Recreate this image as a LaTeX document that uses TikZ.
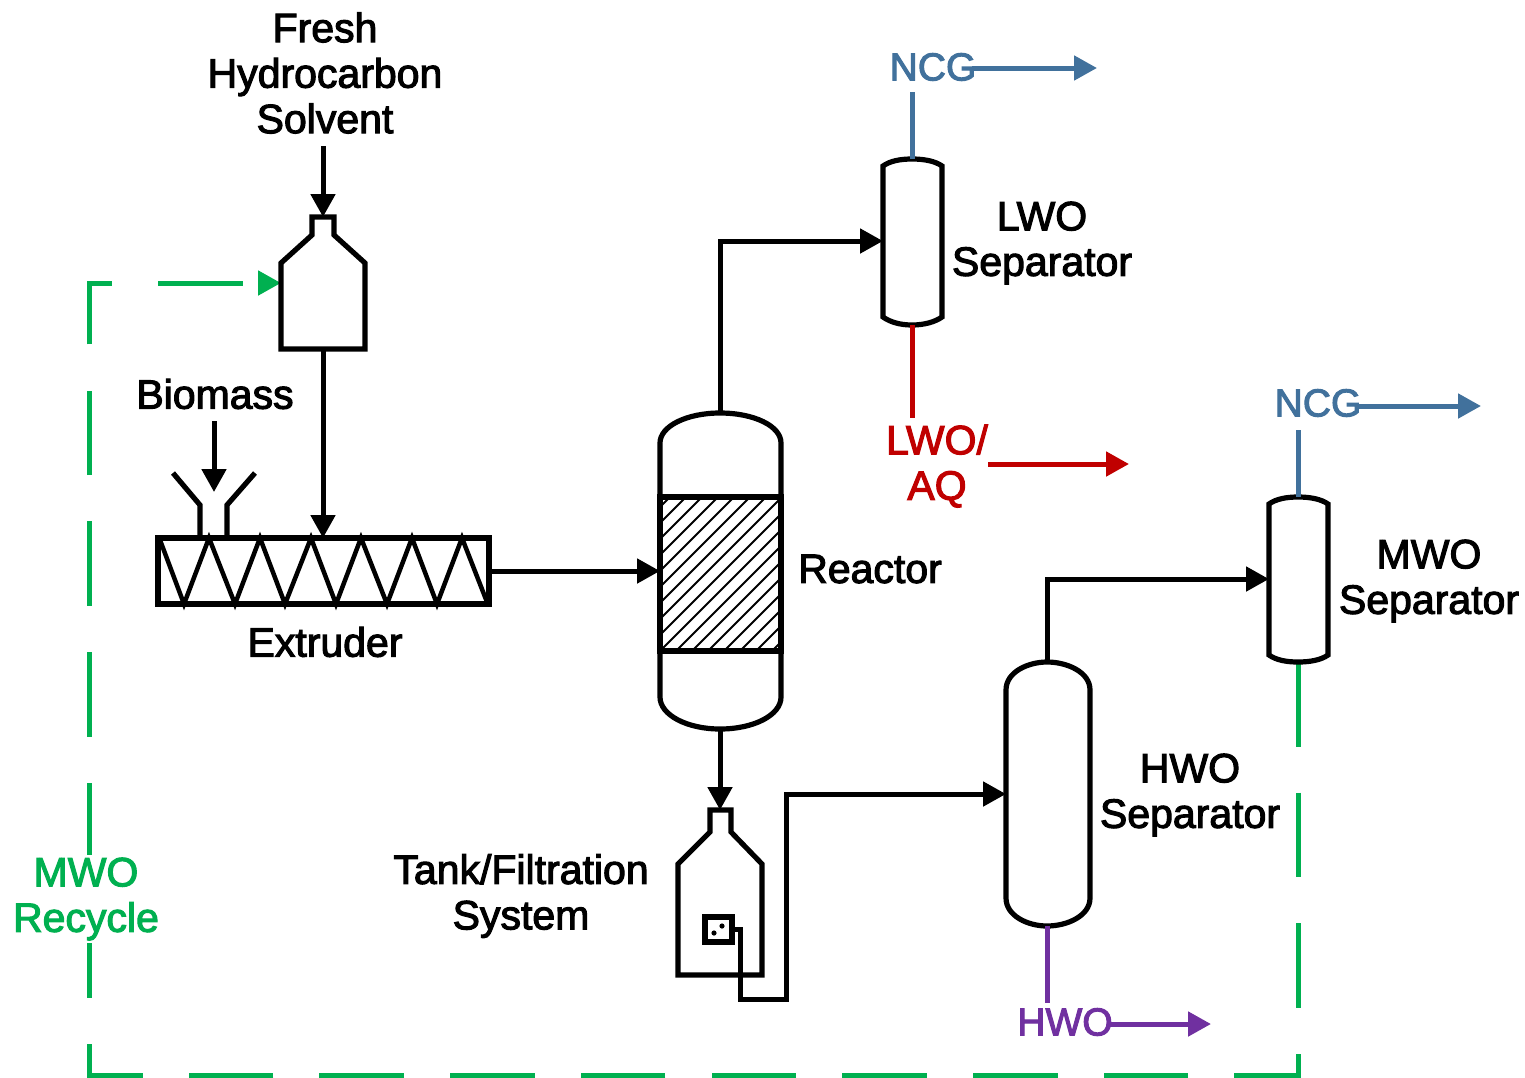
\documentclass[tikz,border=0pt]{standalone}
\usepackage{fontspec}
\setmainfont{Liberation Sans}
\newfontfamily\labfont[FakeBold=2.6]{Liberation Sans}
\usetikzlibrary{arrows.meta}
\definecolor{ncgblue}{HTML}{41719C}
\definecolor{lwored}{HTML}{C00000}
\definecolor{hwopurple}{HTML}{7030A0}
\definecolor{mwogreen}{HTML}{00B050}
\tikzset{
  unitline/.style={draw=black,line width=5.2pt,line join=miter},
  flow/.style={line width=5pt,-{Triangle[length=23pt,width=24pt]}},
  plainflow/.style={line width=5pt},
  lab/.style={font=\labfont\fontsize{41}{45.5}\selectfont,align=center,inner sep=0pt,text=black},
  smalllab/.style={lab,font=\labfont\fontsize{39}{45}\selectfont},
  hatchline/.style={line width=2pt,black},
  recycle/.style={line width=5pt,draw=mwogreen,dash pattern=on 84.6pt off 46.1pt,-{Triangle[length=23pt,width=24pt]}},
}
\begin{document}
\begin{tikzpicture}[x=1pt,y=-1pt]
\useasboundingbox (0,0) rectangle (1525,1077);
% ports
\coordinate (freshOut) at (323,146);
\coordinate (hopperTop) at (323,217);
\coordinate (hopperBot) at (323,349);
\coordinate (hopperSide) at (281,283);
\coordinate (extTop) at (323,538);
\coordinate (extRight) at (489,571);
\coordinate (bioOut) at (214,421);
\coordinate (bioIn) at (214,492);
\coordinate (reacLeft) at (660,571);
\coordinate (reacTop) at (720,413);
\coordinate (reacBot) at (720,729);
\coordinate (lwoLeft) at (883,241);
\coordinate (lwoTop) at (912,159);
\coordinate (lwoBot) at (912,325);
\coordinate (tankTop) at (720,810);
\coordinate (filtRight) at (732,929);
\coordinate (hwoLeft) at (1006,794);
\coordinate (hwoTop) at (1047,662);
\coordinate (hwoBot) at (1047,926);
\coordinate (mwoLeft) at (1269,579);
\coordinate (mwoTop) at (1298,497);
\coordinate (mwoBot) at (1298,662);
\coordinate (ncgAEnd) at (1097,68);
\coordinate (ncgBEnd) at (1481,406);
\coordinate (lwoEnd) at (1129,464);
\coordinate (hwoEnd) at (1211,1024);
% recycle (under the label)
\draw[recycle] (mwoBot) -- (1298,1075) -- (89,1075) -- (89,283) -- (hopperSide);
% labels
\node[lab] (fresh) at (325,73) {Fresh\\Hydrocarbon\\Solvent};
\node[lab] (biomass) at (215,394) {Biomass};
\node[lab] (extruder) at (325,642) {Extruder};
\node[lab] (reactor) at (870,569) {Reactor};
\node[lab] (tanklab) at (521,896) {Tank/Filtration\\System};
\node[lab] (lwolab) at (1042,243) {LWO\\Separator};
\node[lab] (hwolab) at (1190,795) {HWO\\Separator};
\node[lab] (mwolab) at (1429,581) {MWO\\Separator};
\node[lab,text=mwogreen,fill=white,inner sep=3pt] (recyclelab) at (86,899) {MWO\\Recycle};
\node[smalllab,text=ncgblue] (ncgA) at (933,67) {NCG};
\node[smalllab,text=ncgblue] (ncgB) at (1318,403) {NCG};
\node[lab,text=lwored] (lwoaq) at (937,466) {LWO/\\AQ};
\node[smalllab,text=hwopurple] (hwoprod) at (1065,1022) {HWO};
% hopper
\draw[unitline] (312,235) -- (312,217) -- (334,217) -- (334,235) -- (365,263) -- (365,349) -- (281,349) -- (281,263) -- cycle;
% extruder
\draw[unitline] (158,538) rectangle (489,604);
\draw[line width=4.5pt,line join=miter] (160,540) -- (184,604) -- (209,538) -- (235,604) -- (260,538) -- (285,604) -- (311,538) -- (336,604) -- (361,538) -- (387,604) -- (412,538) -- (437,604) -- (462,538) -- (487,602);
% funnel
\draw[unitline] (173,473) -- (200,505) -- (200,538);
\draw[unitline] (255,473) -- (227,505) -- (227,538);
% reactor
\begin{scope}
\clip (660,497) rectangle (781,651);
\foreach \d in {0,16,...,288}{\draw[hatchline] (500+\d,651) -- ++(164,-164);}
\end{scope}
\draw[unitline] (660,497) -- (660,443) .. controls (660,426) and (687,413) .. (720,413) .. controls (754,413) and (781,426) .. (781,443) -- (781,497) -- cycle;
\draw[unitline] (660,497) rectangle (781,651);
\draw[unitline] (660,651) -- (660,697) .. controls (660,715) and (687,729) .. (720,729) .. controls (754,729) and (781,715) .. (781,697) -- (781,651);
% LWO separator
\draw[unitline] (883,166) .. controls (890,161) and (900,159) .. (912,159) .. controls (924,159) and (935,161) .. (942,166) -- (942,317) .. controls (935,322) and (924,325) .. (912,325) .. controls (900,325) and (890,322) .. (883,317) -- cycle;
% MWO separator
\draw[unitline] (1269,504) .. controls (1276,499) and (1286,497) .. (1298,497) .. controls (1310,497) and (1321,499) .. (1328,504) -- (1328,655) .. controls (1321,660) and (1310,662) .. (1298,662) .. controls (1286,662) and (1276,660) .. (1269,655) -- cycle;
% HWO separator
\draw[unitline] (1006,690) .. controls (1006,672) and (1028,662) .. (1047,662) .. controls (1067,662) and (1090,672) .. (1090,690) -- (1090,898) .. controls (1090,916) and (1067,926) .. (1047,926) .. controls (1028,926) and (1006,916) .. (1006,898) -- cycle;
% tank
\draw[unitline] (710,832) -- (710,810) -- (731,810) -- (731,832) -- (762,864) -- (762,975) -- (678,975) -- (678,864) -- cycle;
\draw[unitline,line width=6pt] (705,917) rectangle (732,942);
\fill (714,933) circle (2.6pt) (722,926) circle (2.6pt);
% connectors
\draw[flow] (freshOut) -- (hopperTop);
\draw[flow] (hopperBot) -- (extTop);
\draw[flow] (bioOut) -- (bioIn);
\draw[flow] (extRight) -- (reacLeft);
\draw[flow] (reacTop) |- (lwoLeft);
\draw[flow] (reacBot) -- (tankTop);
\draw[flow,line join=miter] (filtRight) -- (740,929) -- (740,999) -- (786,999) -- (786,794) -- (hwoLeft);
\draw[flow] (hwoTop) |- (mwoLeft);
\draw[plainflow,ncgblue] (lwoTop) -- (912,92);
\draw[flow,ncgblue] (972,68) -- (ncgAEnd);
\draw[plainflow,ncgblue] (mwoTop) -- (1298,430);
\draw[flow,ncgblue] (1358,406) -- (ncgBEnd);
\draw[plainflow,lwored] (lwoBot) -- (912,418);
\draw[flow,lwored] (988,464) -- (lwoEnd);
\draw[plainflow,hwopurple] (hwoBot) -- (1047,1003);
\draw[flow,hwopurple] (1110,1024) -- (hwoEnd);
\end{tikzpicture}
\end{document}
